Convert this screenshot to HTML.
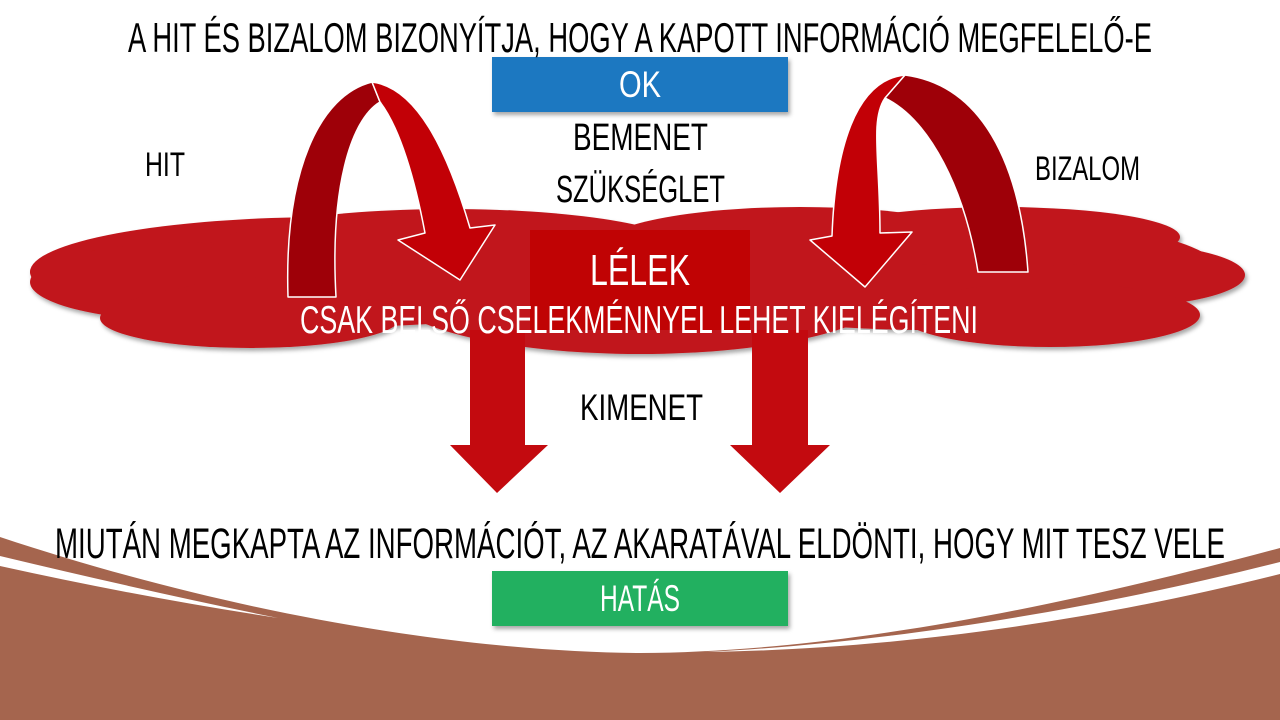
<!DOCTYPE html>
<html><head><meta charset="utf-8"><style>html,body{margin:0;padding:0;background:#fff;width:1280px;height:720px;overflow:hidden}</style></head>
<body>
<svg width="1280" height="720" viewBox="0 0 1280 720" xmlns="http://www.w3.org/2000/svg" font-family="'Liberation Sans Narrow','Liberation Sans',sans-serif">
<defs>
<filter id="sh" x="-10%" y="-10%" width="120%" height="130%"><feDropShadow dx="2" dy="3" stdDeviation="2" flood-opacity="0.35"/></filter>
</defs>
<!-- bottom brown -->
<path d="M0,537 C250,620 480,652 640,653 C820,652 1030,615 1280,548 L1280,720 L0,720 Z" fill="#a5654e"/>
<path d="M0,556 Q150,592 278,618 Q140,597 0,566 Z" fill="#fff"/>
<path d="M705,652 C850,645 1050,620 1280,562 L1280,574 C1050,632 850,650 705,652 Z" fill="#fff"/>
<!-- cloud -->
<g fill="#c1161b" filter="url(#sh)">
<ellipse cx="330" cy="272" rx="300" ry="55"/>
<ellipse cx="200" cy="282" rx="170" ry="40"/>
<ellipse cx="120" cy="272" rx="90" ry="22"/>
<ellipse cx="250" cy="318" rx="150" ry="30"/>
<ellipse cx="450" cy="252" rx="240" ry="43"/>
<ellipse cx="640" cy="292" rx="250" ry="62"/>
<ellipse cx="800" cy="247" rx="200" ry="40"/>
<ellipse cx="930" cy="272" rx="290" ry="58"/>
<ellipse cx="1100" cy="275" rx="145" ry="33"/>
<ellipse cx="1050" cy="315" rx="150" ry="32"/>
<ellipse cx="1000" cy="237" rx="180" ry="30"/>
</g>
<rect x="530" y="230" width="220" height="100" fill="#c00000" opacity="0.85"/>
<!-- down arrows -->
<g fill="#c30a0f">
<path d="M470,330 L525,330 L525,445 L548,445 L497,493 L450,445 L470,445 Z"/>
<path d="M752,330 L808,330 L808,445 L830,445 L780,493 L730,445 L752,445 Z"/>
</g>
<!-- curved arrows -->
<g stroke="#fff" stroke-width="1.5" stroke-linejoin="round">
<path d="M288,297 C284,170 320,95 372,82 L380,102 C350,120 330,190 336,297 Z" fill="#9e0008"/>
<path d="M372,82 C420,88 450,160 470,228 L495,225 L460,280 L398,240 L425,233 C415,180 400,128 380,102 Z" fill="#c20006"/>
<path d="M1028,272 C1020,160 980,85 905,75 L885,98 C930,120 965,190 978,272 Z" fill="#9e0008"/>
<path d="M905,75 C855,80 835,150 832,236 L810,240 L865,287 L912,232 L880,233 C880,160 870,120 885,98 Z" fill="#c20006"/>
</g>
<!-- boxes -->
<rect x="492" y="57" width="296" height="55" fill="#1f78c1" filter="url(#sh)"/>
<rect x="492" y="571" width="296" height="55" fill="#21b060" filter="url(#sh)"/>
<!-- text -->
<g fill="#000">
<text x="128" y="52" font-size="42" textLength="1024" lengthAdjust="spacingAndGlyphs">A HIT ÉS BIZALOM BIZONYÍTJA, HOGY A KAPOTT INFORMÁCIÓ MEGFELELŐ-E</text>
<text x="573" y="150" font-size="38" textLength="135" lengthAdjust="spacingAndGlyphs">BEMENET</text>
<text x="556" y="202" font-size="38" textLength="169" lengthAdjust="spacingAndGlyphs">SZÜKSÉGLET</text>
<text x="145" y="176" font-size="34" textLength="40" lengthAdjust="spacingAndGlyphs">HIT</text>
<text x="1035" y="180" font-size="34" textLength="105" lengthAdjust="spacingAndGlyphs">BIZALOM</text>
<text x="580" y="420" font-size="37" textLength="123" lengthAdjust="spacingAndGlyphs">KIMENET</text>
<text x="55" y="558" font-size="43" textLength="1170" lengthAdjust="spacingAndGlyphs">MIUTÁN MEGKAPTA  AZ INFORMÁCIÓT, AZ AKARATÁVAL ELDÖNTI, HOGY MIT  TESZ  VELE</text>
</g>
<g fill="#fff">
<text x="640" y="97" font-size="37" text-anchor="middle" textLength="42" lengthAdjust="spacingAndGlyphs">OK</text>
<text x="640" y="611" font-size="37" text-anchor="middle" textLength="80" lengthAdjust="spacingAndGlyphs">HATÁS</text>
<text x="640" y="285" font-size="44" text-anchor="middle" textLength="100" lengthAdjust="spacingAndGlyphs">LÉLEK</text>
<text x="300" y="333" font-size="39" textLength="678" lengthAdjust="spacingAndGlyphs">CSAK BELSŐ CSELEKMÉNNYEL LEHET KIELÉGÍTENI</text>
</g>
</svg>
</body></html>
